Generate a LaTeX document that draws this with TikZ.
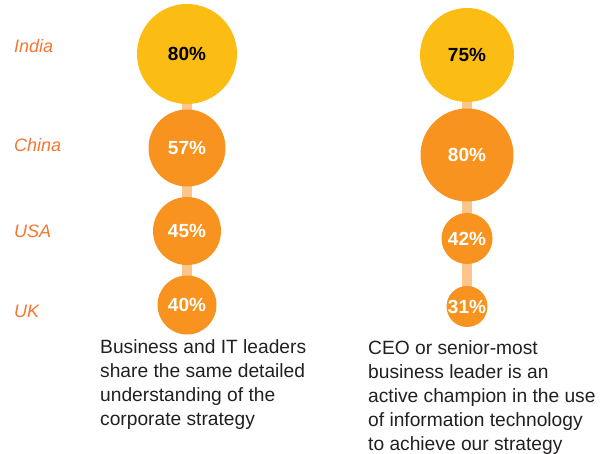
\documentclass[tikz,border=0pt]{standalone}
\usepackage{fontspec}
\setmainfont{Liberation Sans}
\usetikzlibrary{positioning,backgrounds}
\definecolor{leadyellow}{HTML}{FBBC13}
\definecolor{leadorange}{HTML}{F7931E}
\definecolor{linkorange}{HTML}{FDC58C}
\definecolor{countryorange}{HTML}{F47632}
\definecolor{captiongray}{HTML}{231F20}
\tikzset{
  bubble/.style={circle,inner sep=0pt,fill=leadorange,text=white,
    font=\bfseries\fontsize{19}{19}\selectfont},
  topbubble/.style={bubble,fill=leadyellow,text=black},
  country/.style={anchor=base west,inner sep=0pt,text=countryorange,
    font=\itshape\fontsize{18}{18}\selectfont},
  caption/.style={anchor=north west,inner sep=0pt,align=left,text=captiongray,
    font=\fontsize{19.2}{24}\selectfont},
  link/.style={linkorange,line width=10pt,shorten <=-3pt,shorten >=-3pt}
}
\begin{document}
\begin{tikzpicture}[x=1pt,y=-1pt]
\useasboundingbox (0,0) rectangle (610,454);

% country names
\node[country] (india) at (14,53) {India};
\node[country] (china) at (14,152) {China};
\node[country] (usa) at (14,238) {USA};
\node[country] (uk) at (14,317) {UK};

% shared understanding
\node[topbubble,minimum size=100pt] (l1) at (187,54) {80\%};
\node[bubble,minimum size=77pt] (l2) at (187,148) {57\%};
\node[bubble,minimum size=68pt] (l3) at (187,231) {45\%};
\node[bubble,minimum size=59pt] (l4) at (187,305) {40\%};

% ceo champion
\node[topbubble,minimum size=94pt] (r1) at (467,55) {75\%};
\node[bubble,minimum size=93pt] (r2) at (467,155) {80\%};
\node[bubble,minimum size=51pt] (r3) at (467,238.5) {42\%};
\node[bubble,minimum size=41pt] (r4) at (467,306.5) {31\%};

\begin{scope}[on background layer]
\foreach \a/\b in {l1/l2,l2/l3,l3/l4,r1/r2,r2/r3,r3/r4}
  \draw[link] (\a) -- (\b);
\end{scope}

% captions
\node[caption] (capleft) at (100,339.5) {Business and IT leaders\\share the same detailed\\understanding of the\\corporate strategy};
\node[caption] (capright) at (368,340) {CEO or senior-most\\business leader is an\\active champion in the use\\of information technology\\to achieve our strategy};
\end{tikzpicture}
\end{document}
